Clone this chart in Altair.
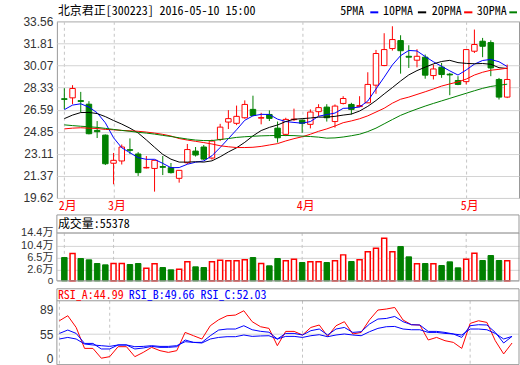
import altair as alt
import pandas as pd

# ---------------- data ----------------
month_start_idx = [0, 6, 29, 49]
month_labels = ["2月", "3月", "4月", "5月"]

opens = [27.45, 27.52, 27.30, 27.02, 24.95, 24.58, 22.36, 22.54, 23.43, 23.09,
         21.99, 21.95, 22.10, 22.01, 21.17, 22.40, 23.32, 23.64, 22.77, 24.24,
         25.61, 25.51, 25.95, 26.61, 25.92, 26.21, 25.13, 24.64, 25.80, 25.76,
         25.43, 26.43, 26.79, 25.65, 27.08, 27.00, 26.83, 27.13, 28.52, 30.07,
         31.41, 32.04, 30.80, 30.49, 30.73, 29.28, 29.94, 29.39, 28.89, 28.80,
         31.20, 31.99, 31.88, 28.97, 27.58]
highs = [28.28, 28.52, 27.99, 27.26, 25.69, 24.63, 23.17, 23.84, 24.32, 23.24,
         22.93, 22.62, 22.93, 22.38, 21.82, 23.88, 23.64, 23.80, 24.23, 25.47,
         26.55, 26.91, 27.32, 27.69, 26.34, 26.53, 25.65, 25.95, 26.67, 25.80,
         26.61, 27.02, 27.02, 27.00, 27.65, 27.13, 27.65, 29.54, 31.30, 32.62,
         33.17, 32.46, 31.67, 31.36, 30.94, 30.15, 30.28, 29.49, 29.23, 31.36,
         32.91, 32.25, 32.06, 29.09, 30.15]
lows = [26.63, 27.02, 26.39, 24.64, 24.35, 22.22, 20.70, 22.26, 23.09, 21.36,
        21.95, 20.12, 21.43, 21.55, 20.83, 22.30, 22.89, 22.61, 22.65, 24.11,
        25.06, 25.37, 25.87, 26.08, 25.43, 25.69, 23.99, 24.50, 25.69, 24.76,
        25.11, 26.08, 25.65, 25.17, 27.00, 26.21, 26.79, 27.10, 27.84, 30.02,
        31.25, 29.43, 29.88, 29.93, 29.03, 28.97, 29.10, 27.73, 28.52, 28.58,
        31.06, 30.73, 29.23, 27.39, 27.50]
closes = [27.40, 28.26, 27.24, 24.69, 24.85, 22.32, 22.59, 23.64, 23.38, 21.62,
          22.03, 22.59, 22.04, 21.62, 21.80, 23.44, 23.01, 22.69, 24.11, 25.21,
          25.88, 26.06, 27.00, 26.13, 25.96, 25.90, 24.37, 25.82, 25.84, 25.51,
          26.40, 26.75, 25.95, 26.87, 27.47, 26.61, 26.91, 28.58, 31.02, 31.33,
          32.12, 31.24, 30.73, 30.80, 29.31, 29.80, 29.36, 29.33, 28.58, 31.33,
          31.73, 31.59, 29.88, 27.58, 28.97]
volumes_wan = [6.53, 7.81, 6.21, 5.79, 4.62, 4.19, 4.62, 4.62, 4.30, 4.62,
               3.13, 4.51, 3.34, 2.60, 2.81, 5.15, 3.56, 3.34, 5.15, 5.68,
               5.47, 5.47, 5.79, 6.53, 4.62, 3.88, 6.21, 5.47, 6.00, 4.94,
               5.15, 5.15, 4.94, 5.47, 7.38, 5.26, 5.79, 8.34, 9.51, 12.70,
               8.34, 10.04, 6.75, 4.51, 4.62, 4.51, 3.98, 5.15, 3.24, 6.00,
               7.92, 5.58, 7.17, 5.58, 5.54]
ma5 = [26.59, 26.95, 27.05, 26.79, 26.34, 25.55, 24.37, 23.58, 23.19, 22.80,
       22.67, 22.67, 22.35, 22.01, 22.02, 22.28, 22.44, 22.54, 22.95, 23.60,
       24.30, 25.00, 25.75, 26.10, 26.22, 26.21, 25.84, 25.65, 25.58, 25.52,
       25.65, 26.07, 26.20, 26.32, 26.69, 26.72, 26.80, 27.27, 28.22, 29.15,
       30.12, 30.85, 31.26, 31.22, 30.78, 30.37, 30.01, 29.65, 29.32, 29.72,
       30.18, 30.47, 30.55, 30.37, 29.99]
ma10 = [25.88, 26.16, 26.36, 26.37, 26.28, 26.04, 25.73, 25.45, 25.13, 24.75,
        24.20, 23.62, 23.06, 22.68, 22.45, 22.45, 22.48, 22.45, 22.55, 22.87,
        23.25, 23.58, 24.01, 24.52, 24.94, 25.19, 25.38, 25.65, 25.83, 25.88,
        25.93, 26.00, 26.00, 26.06, 26.16, 26.24, 26.48, 26.85, 27.31, 27.83,
        28.33, 28.85, 29.33, 29.67, 29.94, 30.20, 30.39, 30.48, 30.30, 30.24,
        30.21, 30.23, 30.17, 29.90, 29.84]
ma20 = [25.07, 25.13, 25.16, 25.13, 25.10, 25.03, 25.00, 24.95, 24.92, 24.88,
        24.82, 24.74, 24.64, 24.51, 24.31, 24.19, 24.09, 23.99, 23.88, 23.74,
        23.66, 23.60, 23.60, 23.62, 23.69, 23.80, 23.91, 24.12, 24.30, 24.45,
        24.65, 24.88, 25.07, 25.30, 25.56, 25.70, 25.87, 26.10, 26.40, 26.70,
        27.10, 27.41, 27.58, 27.79, 28.00, 28.22, 28.45, 28.62, 28.78, 29.00,
        29.32, 29.54, 29.70, 29.77, 29.86]
ma30 = [25.39, 25.33, 25.28, 25.24, 25.19, 25.11, 25.03, 24.95, 24.88, 24.80,
        24.74, 24.66, 24.56, 24.47, 24.37, 24.27, 24.19, 24.15, 24.15, 24.23,
        24.31, 24.40, 24.45, 24.49, 24.52, 24.54, 24.55, 24.55, 24.54, 24.50,
        24.47, 24.42, 24.34, 24.36, 24.43, 24.53, 24.65, 24.86, 25.13, 25.47,
        25.81, 26.14, 26.40, 26.64, 26.87, 27.08, 27.28, 27.48, 27.68, 27.88,
        28.08, 28.27, 28.42, 28.51, 28.60]
rsi_a = [73.7, 80.7, 64.4, 23.1, 23.1, 1.0, 4.5, 26.9, 26.9, 4.5,
         14.1, 25.4, 18.0, 14.1, 18.0, 57.5, 51.6, 44.2, 66.8, 75.1,
         80.7, 81.6, 87.6, 72.4, 65.4, 63.1, 29.2, 58.9, 58.9, 53.2,
         64.4, 67.8, 50.1, 66.8, 72.4, 55.3, 57.5, 75.1, 88.6, 90.0,
         92.2, 74.7, 68.2, 67.8, 42.0, 47.8, 40.4, 36.6, 23.1, 70.0,
         73.7, 71.4, 40.4, 10.6, 35.2]
rsi_b = [56.1, 60.8, 56.1, 34.3, 34.3, 21.8, 21.8, 30.8, 30.8, 21.8,
         24.0, 27.6, 25.4, 25.4, 26.9, 42.0, 36.6, 36.6, 51.6, 60.8,
         62.2, 62.2, 66.8, 61.2, 59.0, 57.8, 44.2, 56.1, 56.1, 53.2,
         59.9, 62.2, 53.2, 62.2, 64.4, 57.5, 58.5, 69.2, 76.1, 76.9,
         79.7, 72.4, 68.2, 67.8, 58.9, 58.9, 57.5, 55.3, 47.8, 66.8,
         68.2, 67.8, 57.5, 35.2, 50.1]
rsi_c = [44.2, 47.8, 44.2, 33.0, 30.8, 29.2, 27.6, 30.8, 30.8, 26.9,
         27.6, 29.2, 27.6, 27.6, 29.2, 38.2, 36.6, 35.2, 44.2, 47.8,
         49.4, 49.4, 53.2, 50.1, 51.1, 51.6, 44.2, 50.1, 50.1, 47.8,
         51.6, 53.9, 49.4, 53.2, 55.3, 53.2, 51.6, 58.5, 63.1, 65.4,
         65.8, 62.2, 61.2, 61.2, 57.5, 57.5, 56.1, 55.3, 53.2, 62.2,
         62.2, 61.2, 56.1, 44.2, 50.1]

price_ticks = [19.62, 21.37, 23.11, 24.85, 26.59, 28.33, 30.07, 31.81, 33.56]
volume_ticks = [0, 2.6, 6.5, 10.4, 14.4]
rsi_ticks = [0, 55, 89]
rsi_ref = [55]

chart_title = "北京君正[300223] 2016-05-10 15:00"
volume_title = "成交量:55378"
rsi_titles = ["RSI_A:44.99", "RSI_B:49.66", "RSI_C:52.03"]
ma_names = ["5PMA", "10PMA", "20PMA", "30PMA"]

# ---------------- styles / layout ----------------
RED, GREEN, BLUE, BLACK = "#ff0000", "#008000", "#0000ff", "#000000"
MA_COLORS = [BLUE, BLACK, RED, GREEN]
RSI_COLORS = [RED, BLUE, BLUE]
MONO = "Noto Sans Mono CJK SC, Noto Sans CJK SC, DejaVu Sans Mono, monospace"
SANS = "Liberation Sans, Arial, Noto Sans CJK SC, sans-serif"
BORDER = "#999999"
GRID = "#d4d4d4"
DASH = "#c4c4c4"
W = 463
X_DOMAIN = [-0.3, 54.83]

n = len(closes)
df = pd.DataFrame({
    "i": list(range(n)),
    "open": opens, "high": highs, "low": lows, "close": closes,
    "vol": volumes_wan,
    "ma5": ma5, "ma10": ma10, "ma20": ma20, "ma30": ma30,
    "rsi_a": rsi_a, "rsi_b": rsi_b, "rsi_c": rsi_c,
})
df["dir"] = ["up" if c >= o else "down" for o, c in zip(opens, closes)]
months = pd.DataFrame({"i": month_start_idx, "m": month_labels})
one = pd.DataFrame({"k": [0]})
rsi_ref_df = pd.DataFrame({"v": rsi_ref})

x_scale = alt.Scale(domain=X_DOMAIN, nice=False, zero=False)


def xenc(axis=None):
    return alt.X("i:Q", scale=x_scale, axis=axis)


month_expr = "".join(
    f"datum.value == {i} ? '{m}' : " for i, m in zip(month_start_idx, month_labels)
) + "''"

# ---------------- header ----------------
hb = alt.Chart(one)
header_layers = [
    hb.mark_rule(color="white", strokeWidth=1).encode(
        x=alt.value(-56), x2=alt.value(0), y=alt.value(0)),
    hb.mark_text(text=chart_title, align="left", baseline="middle", font=MONO,
                 fontSize=12, color=BLACK).encode(x=alt.value(1), y=alt.value(10)),
]
legend_text_x = [284, 326.7, 375.7, 420.7]
legend_dash_x = [(314, 322), (361.7, 370), (408, 416.3), (453.3, 461)]
for name, col, tx, (d0, d1) in zip(ma_names, MA_COLORS, legend_text_x, legend_dash_x):
    header_layers.append(
        hb.mark_text(text=name, align="left", baseline="middle", font=MONO,
                     fontSize=12, color=BLACK).encode(x=alt.value(tx), y=alt.value(10)))
    header_layers.append(
        hb.mark_rule(color=col, strokeWidth=2).encode(
            x=alt.value(d0), x2=alt.value(d1), y=alt.value(11)))
header = alt.layer(*header_layers).properties(width=W, height=20)

# ---------------- price panel ----------------
px_axis = alt.Axis(values=month_start_idx, labelExpr=month_expr, title=None, grid=True,
                   gridDash=[3, 3], gridColor=DASH, domain=False, ticks=False,
                   labelColor=RED, labelFont=MONO, labelFontSize=12, labelPadding=3,
                   labelOffset=3, labelFlush=False, labelOverlap=False)
py_scale = alt.Scale(domain=[price_ticks[0], price_ticks[-1]], nice=False, zero=False)
py_axis = alt.Axis(values=price_ticks, format=".2f", title=None, grid=True, gridColor=GRID,
                   domain=False, ticks=False, labelPadding=4, labelFont=SANS,
                   labelFontSize=12, labelColor="#333333", labelOverlap=False)
base = alt.Chart(df)
wicks = base.mark_rule(strokeWidth=1).encode(
    x=xenc(px_axis),
    y=alt.Y("low:Q", scale=py_scale, axis=py_axis), y2="high:Q",
    color=alt.Color("dir:N", scale=alt.Scale(domain=["up", "down"], range=[RED, GREEN]),
                    legend=None))
up_body = base.transform_filter("datum.dir == 'up'").mark_bar(
    size=5.5, fill="white", stroke=RED, strokeWidth=1).encode(
    x=xenc(px_axis), y=alt.Y("open:Q", scale=py_scale, axis=py_axis), y2="close:Q")
down_body = base.transform_filter("datum.dir == 'down'").mark_bar(
    size=5.5, fill=GREEN, stroke=GREEN, strokeWidth=1).encode(
    x=xenc(px_axis), y=alt.Y("open:Q", scale=py_scale, axis=py_axis), y2="close:Q")
ma_lines = base.transform_fold(["ma5", "ma10", "ma20", "ma30"], as_=["ma", "value"]).mark_line(
    strokeWidth=1).encode(
    x=xenc(px_axis), y=alt.Y("value:Q", scale=py_scale, axis=py_axis),
    color=alt.Color("ma:N", scale=alt.Scale(domain=["ma5", "ma10", "ma20", "ma30"],
                                            range=MA_COLORS), legend=None))
price = alt.layer(wicks, up_body, down_body, ma_lines).resolve_scale(
    color="independent").properties(width=W, height=177,
                                    view=alt.ViewBackground(stroke=BORDER))

# ---------------- volume panel ----------------
# the reference axis puts 0 at the panel floor and spaces 2.6 .. 14.4 evenly
vy_scale = alt.Scale(domain=[0, 2.6, 14.4], range=[83, 72, 35], nice=False, zero=False)
vy_axis = alt.Axis(values=volume_ticks,
                   labelExpr="datum.value == 0 ? '0' : format(datum.value, '.1f') + '万'",
                   title=None, grid=True, gridColor=GRID, domain=False, ticks=False,
                   labelPadding=4, labelFont=SANS,
                   labelFontSize=alt.condition("datum.value == 0", alt.value(10), alt.value(11)),
                   labelColor="#333333", labelOverlap=False)
vb = alt.Chart(one)
vol_dash = alt.Chart(months).mark_rule(strokeDash=[3, 3], color=DASH).encode(
    x=xenc(), y=alt.value(35), y2=alt.value(83))
vol_up = base.transform_filter("datum.dir == 'up'").mark_bar(
    size=5, fill="white", stroke=RED, strokeWidth=1.5).encode(
    x=xenc(), y=alt.Y("vol:Q", scale=vy_scale, axis=vy_axis), y2=alt.datum(0))
vol_down = base.transform_filter("datum.dir == 'down'").mark_bar(
    size=5.5, fill=GREEN, stroke=GREEN, strokeWidth=1).encode(
    x=xenc(), y=alt.Y("vol:Q", scale=vy_scale, axis=vy_axis), y2=alt.datum(0))
vol_box = vb.mark_rect(filled=False, stroke=BORDER, strokeWidth=1).encode(
    x=alt.value(0), x2=alt.value(W), y=alt.value(17), y2=alt.value(83))
vol_sep = vb.mark_rule(color=BORDER, strokeWidth=1).encode(
    x=alt.value(0), x2=alt.value(W), y=alt.value(35))
vol_txt = vb.mark_text(text=volume_title, align="left", baseline="middle", font=MONO,
                       fontSize=12, color=BLACK).encode(x=alt.value(1), y=alt.value(26))
volume = alt.layer(vol_dash, vol_up, vol_down, vol_box, vol_sep, vol_txt).properties(
    width=W, height=83)

# ---------------- RSI panel ----------------
ry_scale = alt.Scale(domain=rsi_ticks, range=[78, 53.5, 29], nice=False, zero=False)
ry_axis = alt.Axis(values=rsi_ticks, title=None, grid=False, domain=False, ticks=False,
                   labelPadding=4, labelFont=SANS, labelFontSize=12, labelColor="#333333",
                   labelOverlap=False)
rb = alt.Chart(one)
rsi_dash = alt.Chart(months).mark_rule(strokeDash=[3, 3], color=DASH).encode(
    x=xenc(), y=alt.value(20), y2=alt.value(84))
rsi_grid = alt.Chart(rsi_ref_df).mark_rule(color=GRID, strokeWidth=1).encode(
    x=alt.value(0), x2=alt.value(W), y=alt.Y("v:Q", scale=ry_scale, axis=ry_axis))
rsi_lines = base.transform_fold(["rsi_a", "rsi_b", "rsi_c"], as_=["r", "value"]).mark_line(
    strokeWidth=1).encode(
    x=xenc(), y=alt.Y("value:Q", scale=ry_scale, axis=ry_axis),
    color=alt.Color("r:N", scale=alt.Scale(domain=["rsi_a", "rsi_b", "rsi_c"],
                                           range=RSI_COLORS), legend=None))
rsi_box = rb.mark_rect(filled=False, stroke=BORDER, strokeWidth=1).encode(
    x=alt.value(0), x2=alt.value(W), y=alt.value(8), y2=alt.value(84))
rsi_sep = rb.mark_rule(color=BORDER, strokeWidth=1).encode(
    x=alt.value(0), x2=alt.value(W), y=alt.value(20))
rsi_layers = [rsi_dash, rsi_grid, rsi_lines, rsi_box, rsi_sep]
for txt, col, tx in zip(rsi_titles, RSI_COLORS, [1, 72, 144]):
    rsi_layers.append(rb.mark_text(text=txt, align="left", baseline="middle", font=MONO,
                                   fontSize=12, color=col).encode(x=alt.value(tx),
                                                                  y=alt.value(14)))
rsi = alt.layer(*rsi_layers).properties(width=W, height=84)

chart = alt.vconcat(header, price, volume, rsi, spacing=0, bounds="flush").properties(
    padding={"left": 0, "top": 0, "right": 0, "bottom": 0}
).configure_view(stroke="transparent")

chart.save("out.html", embed_options={"renderer": "svg", "actions": False})
